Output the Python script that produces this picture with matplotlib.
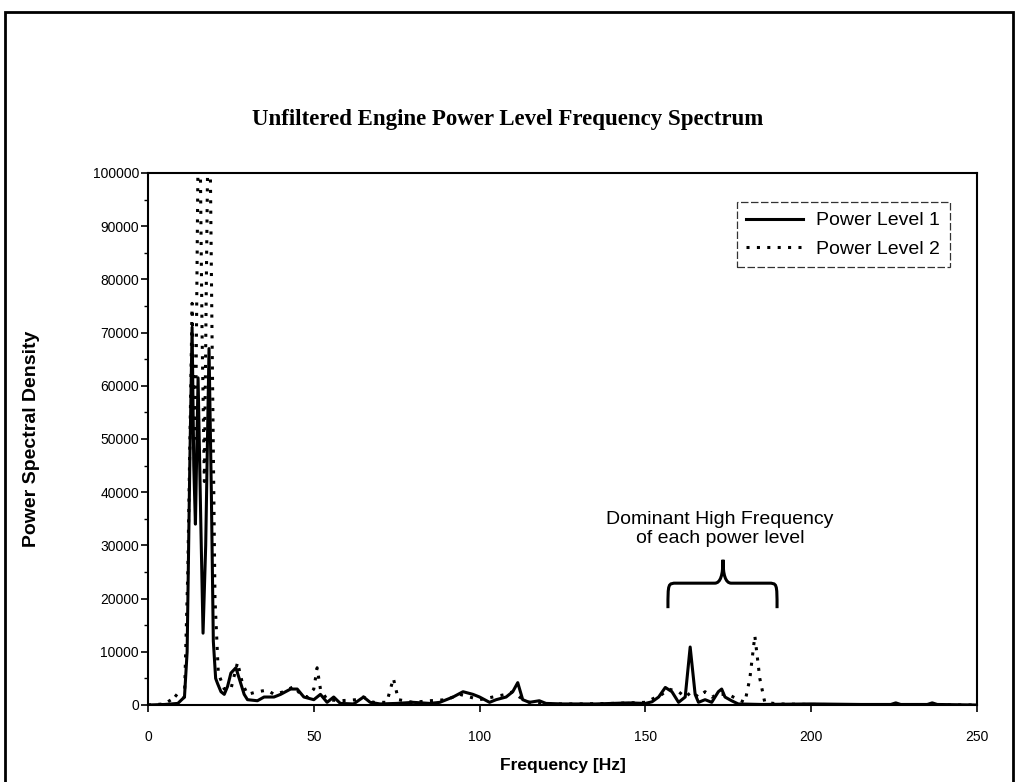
import numpy as np
import matplotlib
matplotlib.use("Agg")
import matplotlib.pyplot as plt
from matplotlib.path import Path
from matplotlib.patches import PathPatch, Rectangle

plt.rcParams.update({
    "font.family": "Liberation Sans",
    "font.size": 11,
    "axes.linewidth": 1.5,
})

# Power Level 1 (solid)
freq1 = [0, 5, 9, 11, 11.8, 12.6, 13.3, 13.8, 14.3, 15.1, 15.9, 16.6, 17.4, 18.4, 19.1, 19.7, 20.4,
         21, 22, 23, 24, 25, 26.5, 28, 29, 30, 33, 35, 38, 40, 43, 45, 47, 50, 52, 54, 56, 58,
         62, 65, 67, 70, 75, 80, 85, 88, 92, 95, 98, 100, 103, 105, 108, 110, 111.5, 113, 115,
         118, 120, 125, 135, 140, 145, 150, 152, 154, 156, 158, 160, 162, 163.5, 165, 166, 168,
         170, 172, 173, 174, 176, 178, 185, 200, 215, 224, 225.5, 227, 235, 236.5, 238, 250]
psd1 = [0, 100, 300, 1500, 10000, 45000, 71000, 45000, 34000, 61500, 35000, 13500, 30000, 67000,
        40000, 12000, 5000, 4000, 2500, 2000, 3500, 6000, 7000, 4000, 2000, 1000, 800, 1500, 1500,
        2000, 3000, 3000, 1500, 1000, 2000, 500, 1500, 300, 200, 1500, 500, 200, 300, 500, 300,
        500, 1500, 2500, 2000, 1500, 500, 1000, 1500, 2500, 4200, 1000, 500, 800, 300, 200, 200,
        300, 400, 300, 600, 1500, 3300, 2500, 500, 1500, 10900, 2000, 500, 1000, 500, 2500, 3000,
        1500, 800, 200, 100, 200, 100, 100, 400, 100, 100, 400, 100, 0]

# Power Level 2 (dotted); the two tallest peaks run off the top of the axis
freq2 = [0, 5, 7, 8, 10, 11, 12, 13.3, 14.0, 14.5, 15.4, 16.3, 17.0, 17.6, 18.4, 19.3, 20.2, 21.2,
         23, 25, 27, 28.5, 30, 33, 36, 38, 41, 44, 46, 48, 50, 51, 52, 54, 58, 63, 65, 68, 72, 74,
         75.5, 80, 85, 90, 94, 97, 100, 104, 108, 110, 112, 115, 120, 130, 140, 150, 155, 157, 160,
         162, 164, 166, 168, 170, 172, 175, 178, 180, 181.5, 183, 184.5, 186, 190, 200, 250]
psd2 = [0, 200, 1000, 2000, 1000, 1500, 25000, 75500, 50000, 62000, 125000, 70000, 42000, 80000,
        125000, 70000, 20000, 6000, 3000, 3000, 8000, 4000, 2000, 2500, 2800, 2000, 2500, 3500, 2000,
        1500, 3000, 7000, 3000, 1000, 800, 1000, 1500, 500, 500, 5000, 1000, 500, 800, 1000, 2000,
        1500, 1000, 1500, 2000, 2500, 1500, 500, 200, 200, 300, 500, 2000, 3000, 2500, 1500, 2500,
        1500, 2500, 1500, 2000, 2000, 1000, 500, 5000, 13000, 5000, 500, 200, 100, 0]

W, H = 1016, 782
fig = plt.figure(figsize=(W / 100, H / 100), dpi=100)

# outer chart frame (bottom edge is cut off in the scan)
fig.patches.append(Rectangle((5 / W, -0.05), (W - 8) / W, 1.05 - 12 / H, transform=fig.transFigure,
                             fill=False, lw=2, edgecolor="black"))

ax = fig.add_axes([148 / W, 1 - 705 / H, (977 - 148) / W, (705 - 173) / H])
ax.plot(freq1, psd1, color="black", lw=2.2, label="Power Level 1", solid_joinstyle="round")
ax.plot(freq2, psd2, color="black", lw=2.2, linestyle=(0, (1, 2.4)), label="Power Level 2")

ax.set_xlim(0, 250)
ax.set_ylim(0, 100000)
ax.set_xticks(np.arange(0, 251, 50))
ax.set_yticks(np.arange(0, 100001, 10000))
ax.set_yticks(np.arange(0, 100001, 5000), minor=True)
ax.tick_params(direction="out", length=5, width=1.2, labelsize=10)
ax.tick_params(axis="y", pad=1.5)
ax.tick_params(axis="x", pad=13)
ax.tick_params(which="minor", direction="out", length=3, width=1)
ax.set_xlabel("Frequency [Hz]", fontweight="bold", fontsize=12.5, labelpad=10)
ax.set_ylabel("Power Spectral Density", fontweight="bold", fontsize=14, labelpad=38)

leg = ax.legend(loc="upper right", bbox_to_anchor=(950 / W, 1 - 202 / H),
                bbox_transform=fig.transFigure, fontsize=14, frameon=True,
                fancybox=False, edgecolor="black", handlelength=2.9, handletextpad=0.7,
                borderpad=0.5, labelspacing=0.55, borderaxespad=0)
leg.get_frame().set_linewidth(0.9)
leg.get_frame().set_linestyle((0, (6, 2)))

fig.text(0.5, 1 - 120 / H, "Unfiltered Engine Power Level Frequency Spectrum",
         family="Liberation Serif", fontweight="bold", fontsize=16.5, ha="center", va="center")

ax.text(172.5, 33000, "Dominant High Frequency\nof each power level", ha="center", va="center",
        fontsize=14, linespacing=1.15)

# curly brace over the two high-frequency peaks
L, R, T = 156.8, 189.7, 173.4
yb, ym, yt = 18200, 22900, 27300
verts = [(L, yb), (L, ym), (L, ym), (L + 2.7, ym),
         (T - 2.5, ym), (T - 0.8, ym), (T, ym + 1500), (T, yt),
         (T, ym + 1500), (T + 0.8, ym), (T + 2.5, ym),
         (R - 2.7, ym), (R, ym), (R, ym), (R, yb)]
codes = [Path.MOVETO, Path.CURVE4, Path.CURVE4, Path.CURVE4,
         Path.LINETO, Path.CURVE4, Path.CURVE4, Path.CURVE4,
         Path.CURVE4, Path.CURVE4, Path.CURVE4,
         Path.LINETO, Path.CURVE4, Path.CURVE4, Path.CURVE4]
ax.add_patch(PathPatch(Path(verts, codes), fill=False, lw=2.2, edgecolor="black"))

fig.savefig("out.png", dpi=100)
